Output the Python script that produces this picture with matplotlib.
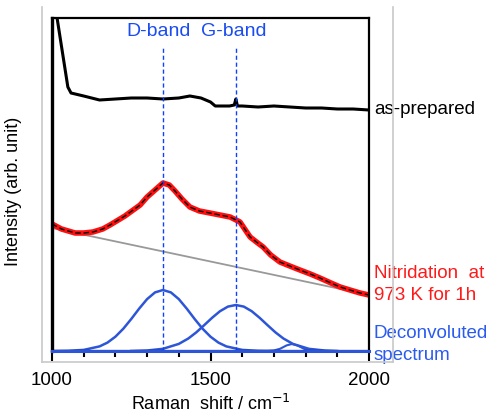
import matplotlib.pyplot as plt
from matplotlib.lines import Line2D
from matplotlib.ticker import MultipleLocator

plt.rcParams['font.family'] = ['Liberation Sans', 'DejaVu Sans']

# as-prepared spectrum (arb. units)
prep_x = [1000, 1016, 1050, 1060, 1100, 1150, 1200, 1250, 1300, 1350, 1400, 1435,
          1470, 1500, 1515, 1530, 1560, 1575, 1580, 1585, 1600, 1650, 1700, 1750,
          1800, 1850, 1900, 1950, 2000]
prep_y = [370, 333, 264, 258, 255, 251, 252, 253, 253, 252, 253, 255,
          253, 249, 245, 245, 245, 246, 252, 245, 245, 244, 245, 244,
          243, 243, 242, 242, 241]

# nitridation at 973 K for 1h
nit_x = [1000, 1030, 1073, 1100, 1129, 1160, 1183, 1230, 1278, 1300, 1325, 1350,
         1370, 1388, 1410, 1435, 1465, 1498, 1530, 1562, 1593, 1610, 1625, 1645,
         1666, 1690, 1719, 1750, 1782, 1815, 1845, 1880, 1909, 1940, 1972, 2000]
nit_y = [127, 122, 118, 118, 119, 122, 126, 135, 146, 154, 161, 168,
         166, 160, 152, 144, 140, 138, 136, 134, 129, 121, 114, 109,
         104, 96, 89, 85, 81, 77, 73, 68, 64, 61, 58, 56]

# linear background
bg_x = [1000, 2000]
bg_y = [123, 56]

# deconvoluted components
d_x = [1000, 1050, 1100, 1150, 1175, 1200, 1225, 1250, 1275, 1300, 1325, 1350,
       1375, 1400, 1425, 1450, 1475, 1500, 1525, 1550, 1600, 1650, 1700]
d_y = [0, 0.2, 1.1, 4.6, 8.4, 14.3, 22.3, 32.0, 42.4, 51.9, 58.6, 61,
       58.6, 51.9, 42.4, 32.0, 22.3, 14.3, 8.4, 4.6, 1.1, 0.2, 0]
g_x = [1250, 1300, 1350, 1400, 1430, 1455, 1480, 1505, 1530, 1555, 1580, 1605,
       1630, 1655, 1680, 1705, 1730, 1760, 1810, 1860, 1900]
g_y = [0, 0.5, 2.2, 7.1, 12.5, 18.6, 25.8, 33.2, 39.8, 44.4, 46, 44.4,
       39.8, 33.2, 25.8, 18.6, 12.5, 7.1, 2.2, 0.5, 0]
s_x = [1680, 1700, 1720, 1740, 1757, 1775, 1795, 1815, 1840]
s_y = [0, 0.5, 2.3, 5.6, 7, 5.4, 2.2, 0.5, 0]

band_pos = [1350, 1582]
band_names = ['D-band', 'G-band']

fig = plt.figure(figsize=(5.02, 4.17), dpi=100)
ax = fig.add_axes([52/502, 66/417, 317/502, 333/417])

blue = '#2D55D8'
ax.plot(prep_x, prep_y, color='black', lw=2.2)
ax.plot(bg_x, bg_y, color='#999999', lw=1.3)
ax.plot(nit_x, nit_y, color='#FF1010', lw=4.0)
ax.plot(nit_x, nit_y, color='black', lw=1.0, ls=(0, (4, 2)))
ax.plot(d_x, d_y, color=blue, lw=1.8)
ax.plot(g_x, g_y, color=blue, lw=1.8)
ax.plot(s_x, s_y, color=blue, lw=1.5)
ax.plot([1000, 2000], [0, 0], color=blue, lw=2.2, clip_on=False, zorder=5)

for xp, name in zip(band_pos, band_names):
    ax.plot([xp, xp], [0, 303], color='#1040FF', lw=1.0, ls=(0, (3, 2)))
ax.text(1337, 320, band_names[0], color='#1A4CF0', fontsize=14, ha='center', va='center')
ax.text(1573, 320, band_names[1], color='#1A4CF0', fontsize=14, ha='center', va='center')

ax.set_xlim(1000, 2000)
ax.set_ylim(0, 333)
ax.set_yticks([])
ax.xaxis.set_major_locator(MultipleLocator(500))
ax.xaxis.set_minor_locator(MultipleLocator(100))
ax.tick_params(axis='x', which='major', length=7, width=1.5, labelsize=13.5, pad=8)
ax.tick_params(axis='x', which='minor', length=4, width=1.5)
for side in ['left', 'right', 'top', 'bottom']:
    ax.spines[side].set_color('black')
    ax.spines[side].set_linewidth(1.6)
ax.spines['left'].set_linewidth(2.4)

ax.set_xlabel('Raman  shift / cm$^{-1}$', fontsize=13, labelpad=4)
ax.set_ylabel('Intensity (arb. unit)', fontsize=13)
ax.yaxis.set_label_coords(-0.095, 0.48)

# right-hand labels
ax.text(2015, 241, 'as-prepared', fontsize=13.5, va='center', clip_on=False)
ax.text(2015, 78, 'Nitridation  at', fontsize=13.5, color='#FF1A1A', va='center', clip_on=False)
ax.text(2015, 55, '973 K for 1h', fontsize=13.5, color='#FF1A1A', va='center', clip_on=False)
ax.text(2015, 18, 'Deconvoluted', fontsize=13.5, color='#2A5AF0', va='center', clip_on=False)
ax.text(2015, -4, 'spectrum', fontsize=13.5, color='#2A5AF0', va='center', clip_on=False)

# light grey chart frame
frame = '#C8C8C8'
fig.add_artist(Line2D([42/502, 42/502], [1 - 7/417, 1 - 362/417], color=frame, lw=1.2))
fig.add_artist(Line2D([42/502, 393/502], [1 - 362/417, 1 - 362/417], color=frame, lw=1.2))
fig.add_artist(Line2D([393/502, 393/502], [1 - 7/417, 1 - 362/417], color=frame, lw=1.2))

fig.savefig('out.png', dpi=100)
plt.close()
